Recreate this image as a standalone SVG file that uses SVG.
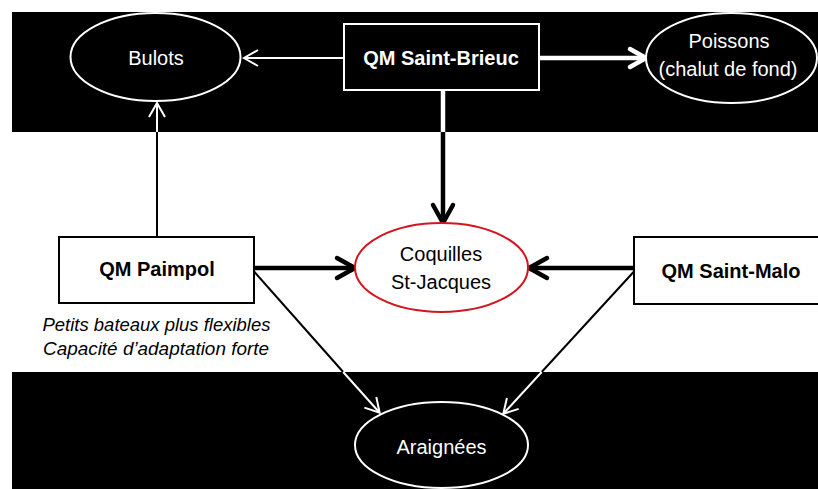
<svg xmlns="http://www.w3.org/2000/svg" width="818" height="489" viewBox="0 0 818 489">
  <style>
    .band { fill: #000000; }
    .t { font-family: "Liberation Sans", Arial, sans-serif; font-size: 20px; text-anchor: middle; }
    .w { fill: #ffffff; }
    .k { fill: #000000; }
    .b { font-weight: bold; }
    .it { font-style: italic; font-size: 18px; }
    .nodeW { fill: #000000; stroke: #ffffff; stroke-width: 2; }
    .nodeK { fill: #ffffff; stroke: #000000; stroke-width: 2; }
    .nodeR { fill: #ffffff; stroke: #d2161e; stroke-width: 2; }
    .cw { fill: none; stroke: #ffffff; stroke-width: 2; }
    .ck { fill: none; stroke: #000000; stroke-width: 2; }
    .cwT { fill: none; stroke: #ffffff; stroke-width: 4.5; }
    .ckT { fill: none; stroke: #000000; stroke-width: 4.5; }
  </style>
  <defs>
    <marker id="aw" markerUnits="userSpaceOnUse" viewBox="-20 -12 24 24" refX="-1" refY="0" markerWidth="24" markerHeight="24" orient="auto" overflow="visible">
      <path d="M-14,-8 L0,0 L-14,8" fill="none" stroke="#ffffff" stroke-width="2"/>
    </marker>
    <marker id="ak" markerUnits="userSpaceOnUse" viewBox="-20 -12 24 24" refX="-1" refY="0" markerWidth="24" markerHeight="24" orient="auto" overflow="visible">
      <path d="M-14,-8 L0,0 L-14,8" fill="none" stroke="#000000" stroke-width="2"/>
    </marker>
    <marker id="awT" markerUnits="userSpaceOnUse" viewBox="-24 -14 28 28" refX="-2" refY="0" markerWidth="28" markerHeight="28" orient="auto" overflow="visible">
      <path d="M-16,-9 L0,0 L-16,9" fill="none" stroke="#ffffff" stroke-width="4.5" stroke-linejoin="round" stroke-linecap="round"/>
    </marker>
    <marker id="akT" markerUnits="userSpaceOnUse" viewBox="-24 -14 28 28" refX="-2" refY="0" markerWidth="28" markerHeight="28" orient="auto" overflow="visible">
      <path d="M-18,-10 L0,0 L-18,10" fill="none" stroke="#000000" stroke-width="4.5" stroke-linejoin="round" stroke-linecap="round"/>
    </marker>
  </defs>

  <rect width="818" height="489" fill="#ffffff"/>
  <g id="bands">
    <rect class="band" x="12" y="12" width="806" height="120"/>
    <rect class="band" x="12" y="372" width="806" height="117"/>
  </g>

  <g id="connectors">
    <!-- Saint-Brieuc -> Bulots -->
    <line class="cw" x1="344" y1="58" x2="245" y2="58" marker-end="url(#aw)"/>
    <!-- Saint-Brieuc -> Poissons -->
    <line class="cwT" x1="539" y1="58" x2="644" y2="58" marker-end="url(#awT)"/>
    <!-- Saint-Brieuc -> Coquilles -->
    <line class="cwT" x1="443" y1="91" x2="443" y2="132"/>
    <line class="ckT" x1="443" y1="132" x2="443" y2="221" marker-end="url(#akT)"/>
    <!-- Paimpol -> Bulots -->
    <line class="ck" x1="157" y1="237" x2="157" y2="132"/>
    <line class="cw" x1="157" y1="132" x2="157" y2="104" marker-end="url(#aw)"/>
    <!-- Paimpol -> Coquilles -->
    <line class="ckT" x1="254" y1="268" x2="353" y2="268" marker-end="url(#akT)"/>
    <!-- Saint-Malo -> Coquilles -->
    <line class="ckT" x1="634" y1="268" x2="531" y2="268" marker-end="url(#akT)"/>
    <!-- Paimpol -> Araignees -->
    <line class="ck" x1="254" y1="271.5" x2="343.2" y2="372"/>
    <line class="cw" x1="343.2" y1="372" x2="379" y2="412" marker-end="url(#aw)"/>
    <!-- Saint-Malo -> Araignees -->
    <line class="ck" x1="634" y1="271.5" x2="541.7" y2="372"/>
    <line class="cw" x1="541.7" y1="372" x2="504" y2="413" marker-end="url(#aw)"/>
  </g>

  <g id="bulots">
    <ellipse class="nodeW" cx="155.5" cy="57" rx="85" ry="44"/>
    <text class="t w" x="156" y="65">Bulots</text>
  </g>

  <g id="saint-brieuc">
    <rect class="nodeW" x="344" y="24" width="195" height="66"/>
    <text class="t w b" x="441" y="65">QM Saint-Brieuc</text>
  </g>

  <g id="poissons">
    <ellipse class="nodeW" cx="731.5" cy="58" rx="85.5" ry="45"/>
    <text class="t w" x="729" y="48">Poissons</text>
    <text class="t w" x="728" y="76">(chalut de fond)</text>
  </g>

  <g id="paimpol">
    <rect class="nodeK" x="59" y="237" width="195" height="66"/>
    <text class="t k b" x="157" y="276">QM Paimpol</text>
    <text class="t k it" x="156.5" y="331" textLength="228" lengthAdjust="spacingAndGlyphs">Petits bateaux plus flexibles</text>
    <text class="t k it" x="156" y="355" textLength="226" lengthAdjust="spacingAndGlyphs">Capacité d’adaptation forte</text>
  </g>

  <g id="coquilles">
    <ellipse class="nodeR" cx="441.5" cy="267.5" rx="86.5" ry="44.5"/>
    <text class="t k" x="441" y="261">Coquilles</text>
    <text class="t k" x="441" y="289">St-Jacques</text>
  </g>

  <g id="saint-malo">
    <rect class="nodeK" x="634" y="237" width="190" height="67"/>
    <text class="t k b" x="731" y="278">QM Saint-Malo</text>
  </g>

  <g id="araignees">
    <ellipse class="nodeW" cx="441.5" cy="445" rx="86.5" ry="43"/>
    <text class="t w" x="441.5" y="454">Araignées</text>
  </g>
</svg>
